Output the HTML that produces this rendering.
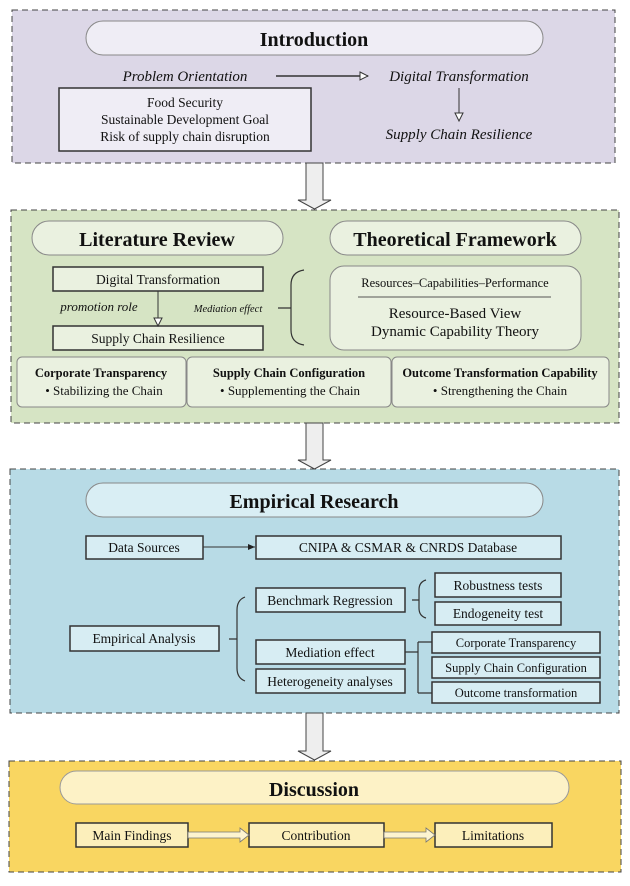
<!DOCTYPE html>
<html><head><meta charset="utf-8"><style>html,body{margin:0;padding:0;background:#fff}svg{display:block}text{font-family:"Liberation Serif",serif;fill:#111}</style></head><body>
<svg width="630" height="886" viewBox="0 0 630 886" xmlns="http://www.w3.org/2000/svg">
<defs>
<marker id="ho" markerWidth="10" markerHeight="10" refX="9" refY="5" orient="auto" markerUnits="userSpaceOnUse"><path d="M1,1 L9,5 L1,9 Z" fill="#fff" stroke="#333" stroke-width="1"/></marker>
<marker id="so" markerWidth="8" markerHeight="8" refX="7" refY="4" orient="auto" markerUnits="userSpaceOnUse"><path d="M0,1 L7,4 L0,7 Z" fill="#222"/></marker>
</defs>
<!-- Intro -->
<rect x="12" y="10" width="603" height="153" fill="#dcd7e7" stroke="#444" stroke-dasharray="6,4"/>
<rect x="86" y="21" width="457" height="34" rx="17" fill="#efedf5" stroke="#888"/>
<text x="314" y="46" font-size="20" font-weight="bold" text-anchor="middle">Introduction</text>
<text x="185" y="81" font-size="15" font-style="italic" text-anchor="middle">Problem Orientation</text>
<line x1="276" y1="76" x2="368" y2="76" stroke="#333" stroke-width="1.5" marker-end="url(#ho)"/>
<text x="459" y="81" font-size="15" font-style="italic" text-anchor="middle">Digital Transformation</text>
<line x1="459" y1="88" x2="459" y2="121" stroke="#333" marker-end="url(#ho)"/>
<text x="459" y="139" font-size="15" font-style="italic" text-anchor="middle">Supply Chain Resilience</text>
<rect x="59" y="88" width="252" height="63" fill="#efedf5" stroke="#333" stroke-width="1.5"/>
<text x="185" y="107" font-size="13.5" text-anchor="middle">Food Security</text>
<text x="185" y="124" font-size="13.5" text-anchor="middle">Sustainable Development Goal</text>
<text x="185" y="141" font-size="13.5" text-anchor="middle">Risk of supply chain disruption</text>
<!-- arrow1 -->
<path d="M306,163 L323,163 L323,200 L331,200 L314.5,209 L298,200 L306,200 Z" fill="#eee" stroke="#444"/>
<!-- Green -->
<rect x="11" y="210" width="608" height="213" fill="#d6e4c4" stroke="#444" stroke-dasharray="6,4"/>
<rect x="32" y="221" width="251" height="34" rx="17" fill="#eaf1e0" stroke="#888"/>
<text x="157" y="246" font-size="20" font-weight="bold" text-anchor="middle">Literature Review</text>
<rect x="330" y="221" width="251" height="34" rx="17" fill="#eaf1e0" stroke="#888"/>
<text x="455" y="246" font-size="20" font-weight="bold" text-anchor="middle">Theoretical Framework</text>
<rect x="53" y="267" width="210" height="24" fill="#eaf1e0" stroke="#333" stroke-width="1.5"/>
<text x="158" y="284" font-size="13.5" text-anchor="middle">Digital Transformation</text>
<rect x="53" y="326" width="210" height="24" fill="#eaf1e0" stroke="#333" stroke-width="1.5"/>
<text x="158" y="343" font-size="13.5" text-anchor="middle">Supply Chain Resilience</text>
<line x1="158" y1="291" x2="158" y2="326" stroke="#333" marker-end="url(#ho)"/>
<text x="99" y="311" font-size="13" font-style="italic" text-anchor="middle">promotion role</text>
<text x="228" y="312" font-size="10.5" font-style="italic" text-anchor="middle">Mediation effect</text>
<path d="M304,270 Q291,272 291,285 L291,330 Q291,343 304,345 M278,308 L291,308" fill="none" stroke="#333" stroke-width="1.2"/>
<rect x="330" y="266" width="251" height="84" rx="14" fill="#eaf1e0" stroke="#888"/>
<text x="455" y="287" font-size="12.5" text-anchor="middle">Resources–Capabilities–Performance</text>
<line x1="358" y1="297" x2="551" y2="297" stroke="#555"/>
<text x="455" y="318" font-size="15" text-anchor="middle">Resource-Based View</text>
<text x="455" y="336" font-size="15" text-anchor="middle">Dynamic Capability Theory</text>
<rect x="17" y="357" width="169" height="50" rx="5" fill="#eaf1e0" stroke="#888"/>
<rect x="187" y="357" width="204" height="50" rx="5" fill="#eaf1e0" stroke="#888"/>
<rect x="392" y="357" width="217" height="50" rx="5" fill="#eaf1e0" stroke="#888"/>
<text x="101" y="377" font-size="12.5" font-weight="bold" text-anchor="middle">Corporate Transparency</text>
<text x="104" y="395" font-size="13" text-anchor="middle">• Stabilizing the Chain</text>
<text x="289" y="377" font-size="12.5" font-weight="bold" text-anchor="middle">Supply Chain Configuration</text>
<text x="290" y="395" font-size="13" text-anchor="middle">• Supplementing the Chain</text>
<text x="500" y="377" font-size="12.5" font-weight="bold" text-anchor="middle">Outcome Transformation Capability</text>
<text x="500" y="395" font-size="13" text-anchor="middle">• Strengthening the Chain</text>
<!-- arrow2 -->
<path d="M306,423 L323,423 L323,460 L331,460 L314.5,469 L298,460 L306,460 Z" fill="#eee" stroke="#444"/>
<!-- Blue -->
<rect x="10" y="469" width="609" height="244" fill="#b8dbe6" stroke="#444" stroke-dasharray="6,4"/>
<rect x="86" y="483" width="457" height="34" rx="17" fill="#d9eef4" stroke="#888"/>
<text x="314" y="508" font-size="20" font-weight="bold" text-anchor="middle">Empirical Research</text>
<g fill="#d7edf3" stroke="#333" stroke-width="1.5">
<rect x="86" y="536" width="117" height="23"/>
<rect x="256" y="536" width="305" height="23"/>
<rect x="435" y="573" width="126" height="24"/>
<rect x="435" y="602" width="126" height="23"/>
<rect x="256" y="588" width="149" height="24"/>
<rect x="70" y="626" width="149" height="25"/>
<rect x="256" y="640" width="149" height="24"/>
<rect x="256" y="669" width="149" height="24"/>
<rect x="432" y="632" width="168" height="21"/>
<rect x="432" y="657" width="168" height="21"/>
<rect x="432" y="682" width="168" height="21"/>
</g>
<line x1="203" y1="547" x2="255" y2="547" stroke="#333" marker-end="url(#so)"/>
<g font-size="13.5" text-anchor="middle">
<text x="144" y="552">Data Sources</text>
<text x="408" y="552">CNIPA &amp; CSMAR &amp; CNRDS  Database</text>
<text x="498" y="590">Robustness tests</text>
<text x="498" y="618">Endogeneity test</text>
<text x="330" y="605">Benchmark Regression</text>
<text x="144" y="643">Empirical Analysis</text>
<text x="330" y="657">Mediation effect</text>
<text x="330" y="686">Heterogeneity analyses</text>
</g>
<g font-size="12.5" text-anchor="middle">
<text x="516" y="647">Corporate Transparency</text>
<text x="516" y="672">Supply Chain Configuration</text>
<text x="516" y="697">Outcome  transformation</text>
</g>
<path d="M245,597 Q237,600 237,610 L237,668 Q237,678 245,681 M229,639 L237,639" fill="none" stroke="#333" stroke-width="1.2"/>
<path d="M426,580 Q419,582 419,590 L419,608 Q419,616 426,618 M412,600 L419,600" fill="none" stroke="#333" stroke-width="1.2"/>
<path d="M405,652 L418,652 M418,642 L418,693 M418,642 L432,642 M418,693 L432,693" fill="none" stroke="#333" stroke-width="1.2"/>
<!-- arrow3 -->
<path d="M306,713 L323,713 L323,751 L331,751 L314.5,760 L298,751 L306,751 Z" fill="#eee" stroke="#444"/>
<!-- Yellow -->
<rect x="9" y="761" width="612" height="111" fill="#f9d661" stroke="#444" stroke-dasharray="6,4"/>
<rect x="60" y="771" width="509" height="33" rx="16.5" fill="#fdf2c6" stroke="#999"/>
<text x="314" y="796" font-size="20" font-weight="bold" text-anchor="middle">Discussion</text>
<g fill="#fcefbb" stroke="#333" stroke-width="1.5">
<rect x="76" y="823" width="112" height="24"/>
<rect x="249" y="823" width="135" height="24"/>
<rect x="435" y="823" width="117" height="24"/>
</g>
<path d="M188,832 L240,832 L240,828 L249,835 L240,842 L240,838 L188,838 Z" fill="#fdf4d0" stroke="#777" stroke-width="0.8"/>
<path d="M384,832 L426,832 L426,828 L435,835 L426,842 L426,838 L384,838 Z" fill="#fdf4d0" stroke="#777" stroke-width="0.8"/>
<g font-size="13.5" text-anchor="middle">
<text x="132" y="840">Main Findings</text>
<text x="316" y="840">Contribution</text>
<text x="493" y="840">Limitations</text>
</g>
</svg>
</body></html>
